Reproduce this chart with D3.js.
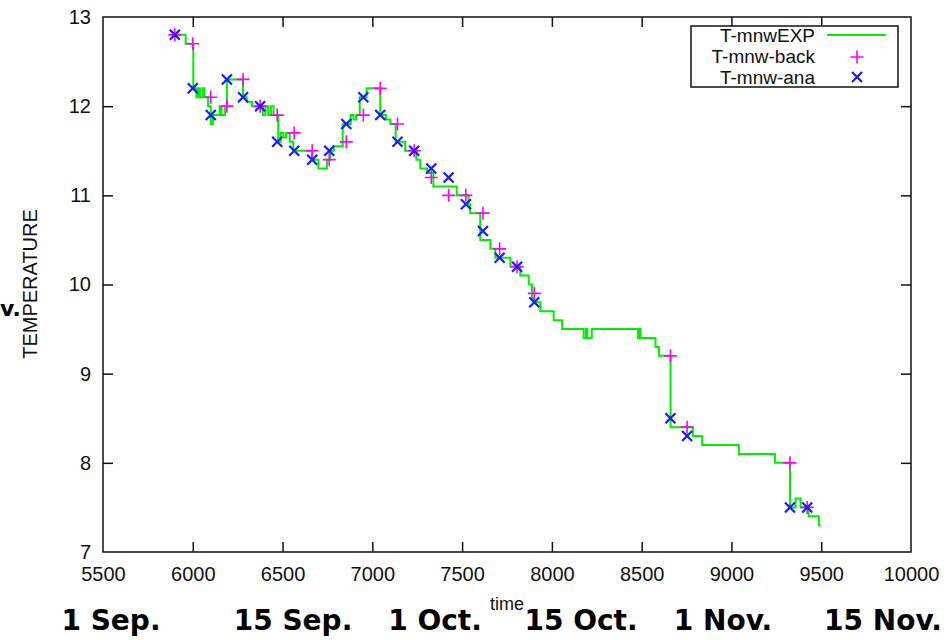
<!DOCTYPE html>
<html>
<head>
<meta charset="utf-8">
<script src="https://cdn.jsdelivr.net/npm/d3@7"></script>
<style>
  body { margin: 0; background: #fff; }
  svg { display: block; }
  .tick text { font-family: "Liberation Sans", Arial, sans-serif; font-size: 20px; fill: #111; }
</style>
</head>
<body>
<svg id="chart" width="949" height="640"></svg>
<script>
// step curve T-mnwEXP (time, temperature)
const expTime = [5900, 5960, 6003, 6020, 6030, 6040, 6055, 6065, 6085, 6100, 6112, 6150, 6160, 6180, 6190,
  6280, 6300, 6330, 6390, 6405, 6420, 6435, 6450, 6476, 6490, 6505, 6520, 6540, 6560,
  6663, 6700, 6747, 6765, 6785, 6835, 6880, 6895, 6910, 6930, 6968,
  7044, 7075, 7100, 7130, 7183, 7245, 7267, 7304, 7340, 7470, 7536, 7545, 7601, 7657, 7685,
  7769, 7824, 7871, 7889, 7900, 7936, 8010, 8057, 8177, 8190, 8197, 8222, 8480, 8487, 8494,
  8577, 8596, 8661, 8785, 8837, 9041, 9242, 9326, 9357, 9385, 9430, 9487, 9497];
const expTemp = [12.8, 12.7, 12.2, 12.1, 12.2, 12.1, 12.2, 12.1, 12.0, 11.8, 11.9, 12.0, 11.9, 12.0, 12.3,
  12.1, 12.05, 12.0, 11.9, 12.0, 11.9, 12.0, 11.9, 11.6, 11.7, 11.65, 11.7, 11.6, 11.5,
  11.4, 11.3, 11.4, 11.5, 11.55, 11.8, 11.9, 11.85, 11.9, 12.1, 12.2,
  11.9, 11.85, 11.8, 11.6, 11.5, 11.4, 11.3, 11.25, 11.1, 11.0, 10.9, 10.8, 10.5, 10.4, 10.3,
  10.2, 10.1, 10.0, 9.85, 9.8, 9.7, 9.6, 9.5, 9.4, 9.5, 9.4, 9.5, 9.4, 9.5, 9.4,
  9.3, 9.2, 8.4, 8.3, 8.2, 8.1, 8.0, 7.5, 7.6, 7.5, 7.4, 7.3, 7.3];

// marker series
const markerTime = [5900, 6000, 6100, 6190, 6280, 6375, 6470, 6565, 6665, 6760, 6855, 6950, 7044,
  7140, 7233, 7328, 7425, 7521, 7616, 7709, 7806, 7902, 8660, 8753, 9326, 9422];
const backTemp = [12.8, 12.7, 12.1, 12.0, 12.3, 12.0, 11.9, 11.7, 11.5, 11.4, 11.6, 11.9, 12.2,
  11.8, 11.5, 11.2, 11.0, 11.0, 10.8, 10.4, 10.2, 9.9, 9.2, 8.4, 8.0, 7.5];
const anaTemp = [12.8, 12.2, 11.9, 12.3, 12.1, 12.0, 11.6, 11.5, 11.4, 11.5, 11.8, 12.1, 11.9,
  11.6, 11.5, 11.3, 11.2, 10.9, 10.6, 10.3, 10.2, 9.8, 8.5, 8.3, 7.5, 7.5];

const xTicks = [5500, 6000, 6500, 7000, 7500, 8000, 8500, 9000, 9500, 10000];
const yTicks = [7, 8, 9, 10, 11, 12, 13];
const dateLabels = ["1 Sep.", "15 Sep.", "1 Oct.", "15 Oct.", "1 Nov.", "15 Nov."];
const dateCenters = [111, 293, 435, 581, 723, 883];
const legendNames = ["T-mnwEXP", "T-mnw-back", "T-mnw-ana"];

const plotL = 103, plotR = 911, plotT = 17, plotB = 552;
const svg = d3.select("#chart");
svg.append("rect").attr("width", 949).attr("height", 640).attr("fill", "#fff");

const x = d3.scaleLinear().domain([5500, 10000]).range([plotL, plotR]);
const y = d3.scaleLinear().domain([7, 13]).range([plotB, plotT]);
const fmt = d3.format("d");

// axes, ticks point inward
const gx = svg.append("g").attr("transform", `translate(0,${plotB})`)
  .call(d3.axisBottom(x).tickValues(xTicks).tickFormat(fmt).tickSize(-10).tickSizeOuter(0).tickPadding(15));
const gxt = svg.append("g").attr("transform", `translate(0,${plotT})`)
  .call(d3.axisTop(x).tickValues(xTicks).tickSize(-10).tickSizeOuter(0).tickFormat(""));
const gy = svg.append("g").attr("transform", `translate(${plotL},0)`)
  .call(d3.axisLeft(y).tickValues(yTicks).tickFormat(fmt).tickSize(-10).tickSizeOuter(0).tickPadding(12));
const gyr = svg.append("g").attr("transform", `translate(${plotR},0)`)
  .call(d3.axisRight(y).tickValues(yTicks).tickSize(-10).tickSizeOuter(0).tickFormat(""));
[gx, gxt, gy, gyr].forEach(g => {
  g.select(".domain").remove();
  g.selectAll(".tick line").attr("stroke", "#111").attr("stroke-width", 1.5);
});
// skip end ticks that would sit on the frame
[gx, gxt].forEach(g => g.selectAll(".tick line").filter(d => d === 5500 || d === 10000).remove());
[gy, gyr].forEach(g => g.selectAll(".tick line").filter(d => d === 7 || d === 13).remove());

svg.append("rect")
  .attr("x", plotL).attr("y", plotT).attr("width", plotR - plotL).attr("height", plotB - plotT)
  .attr("fill", "none").attr("stroke", "#111").attr("stroke-width", 1.5);

// step line
const expData = expTime.map((t, i) => [t, expTemp[i]]);
svg.append("path").datum(expData)
  .attr("fill", "none").attr("stroke", "#00ee00").attr("stroke-width", 2)
  .attr("d", d3.line().x(d => x(d[0])).y(d => y(d[1])).curve(d3.curveStepAfter));

const plus = s => `M${-s},0H${s}M0,${-s}V${s}`;
const cross = s => `M${-s},${-s}L${s},${s}M${-s},${s}L${s},${-s}`;

svg.append("g").selectAll("path").data(markerTime.map((t, i) => [t, backTemp[i]])).join("path")
  .attr("transform", d => `translate(${x(d[0])},${y(d[1])})`)
  .attr("d", plus(6.5)).attr("stroke", "#ff00ff").attr("stroke-width", 1.6).attr("fill", "none");
svg.append("g").selectAll("path").data(markerTime.map((t, i) => [t, anaTemp[i]])).join("path")
  .attr("transform", d => `translate(${x(d[0])},${y(d[1])})`)
  .attr("d", cross(5)).attr("stroke", "#1a1aff").attr("stroke-width", 2.2).attr("fill", "none");

// legend
const lg = svg.append("g");
lg.append("rect").attr("x", 691).attr("y", 26).attr("width", 207).attr("height", 61)
  .attr("fill", "#fff").attr("stroke", "#111").attr("stroke-width", 1.5);
lg.selectAll("text").data(legendNames).join("text")
  .attr("x", 815).attr("y", (d, i) => [42, 63, 84][i])
  .attr("text-anchor", "end")
  .attr("font-family", "Liberation Sans, Arial, sans-serif").attr("font-size", 19).attr("fill", "#111")
  .text(d => d);
lg.append("line").attr("x1", 827).attr("x2", 886).attr("y1", 35).attr("y2", 35)
  .attr("stroke", "#00ee00").attr("stroke-width", 2);
lg.append("path").attr("transform", "translate(857,57)").attr("d", plus(6.5))
  .attr("stroke", "#ff00ff").attr("stroke-width", 1.6);
lg.append("path").attr("transform", "translate(857,77)").attr("d", cross(5))
  .attr("stroke", "#1a1aff").attr("stroke-width", 2.2);

// axis titles
svg.append("text").attr("transform", "translate(37,284) rotate(-90)")
  .attr("text-anchor", "middle")
  .attr("font-family", "Liberation Sans, Arial, sans-serif").attr("font-size", 20).attr("fill", "#111")
  .text("TEMPERATURE");
svg.append("text").attr("x", 490).attr("y", 610)
  .attr("font-family", "Liberation Sans, Arial, sans-serif").attr("font-size", 18).attr("fill", "#111")
  .text("time");

// date annotations below the axis
svg.append("g").selectAll("text").data(dateLabels).join("text")
  .attr("x", (d, i) => dateCenters[i]).attr("y", 630)
  .attr("text-anchor", "middle")
  .attr("font-family", "DejaVu Sans, sans-serif").attr("font-weight", "bold").attr("font-size", 28)
  .attr("fill", "#000")
  .text(d => d);
// fragment of a side label at the left edge
svg.append("text").attr("x", 0).attr("y", 316)
  .attr("font-family", "DejaVu Sans, sans-serif").attr("font-weight", "bold").attr("font-size", 22)
  .text("v.");
</script>
</body>
</html>
